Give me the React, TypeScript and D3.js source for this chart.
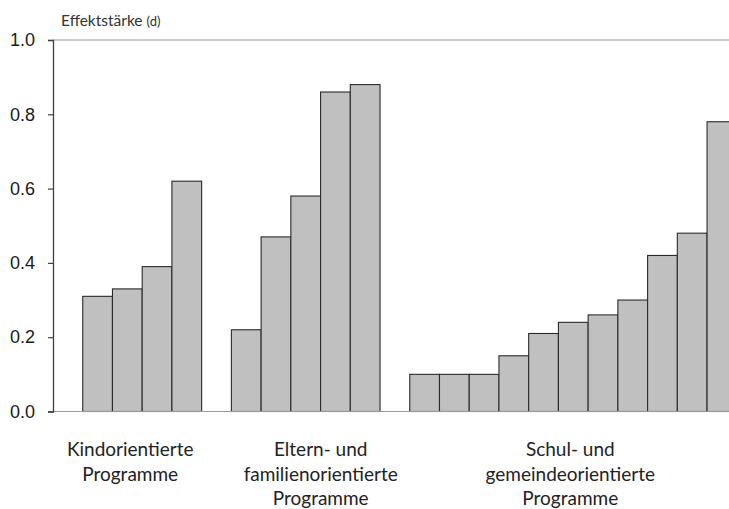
import * as d3 from "d3";
import { useEffect, useRef } from "react";

// groups of programmes (each bar is one study's effect size d)
const groupLabels = [
  ["Kindorientierte", "Programme"],
  ["Eltern- und", "familienorientierte", "Programme"],
  ["Schul- und", "gemeindeorientierte", "Programme"],
];
const kindValues = [0.31, 0.33, 0.39, 0.62];
const elternValues = [0.22, 0.47, 0.58, 0.86, 0.88];
const schulValues = [0.1, 0.1, 0.1, 0.15, 0.21, 0.24, 0.26, 0.3, 0.42, 0.48, 0.78];
const yTicks = [0, 0.2, 0.4, 0.6, 0.8, 1.0];
const yTitle = "Effektstärke";
const yTitleUnit = "(d)";

const width = 729;
const height = 509;

function App() {
  const svgRef = useRef<SVGSVGElement>(null);

  useEffect(() => {
    const svg = d3.select(svgRef.current);
    svg.selectAll("*").remove();

    const groups = [kindValues, elternValues, schulValues];

    // one empty slot before each group
    const slots: { key: string; v: number | null; g: number }[] = [];
    groups.forEach((vals, g) => {
      slots.push({ key: `gap${g}`, v: null, g });
      vals.forEach((v, i) => slots.push({ key: `g${g}b${i}`, v, g }));
    });

    const marginLeft = 53;
    const slotW = 29.73;
    const x = d3
      .scaleBand()
      .domain(slots.map((s) => s.key))
      .range([marginLeft, marginLeft + slotW * slots.length])
      .padding(0);
    const y = d3.scaleLinear([0, 1], [411.5, 40]);

    // top frame line and baseline
    svg.append("line")
      .attr("x1", marginLeft).attr("x2", width)
      .attr("y1", y(1)).attr("y2", y(1))
      .attr("stroke", "#9a9a9a").attr("stroke-width", 1);

    const bars = slots.filter((s) => s.v !== null);
    svg.append("g")
      .selectAll("rect")
      .data(bars)
      .enter()
      .append("rect")
      .attr("x", (d) => x(d.key)!)
      .attr("y", (d) => y(d.v!))
      .attr("width", x.bandwidth())
      .attr("height", (d) => y(0) - y(d.v!))
      .attr("fill", "#c0c0c0")
      .attr("stroke", "#2a2a2a")
      .attr("stroke-width", 1.1);

    svg.append("line")
      .attr("x1", marginLeft).attr("x2", width)
      .attr("y1", y(0)).attr("y2", y(0))
      .attr("stroke", "#9a9a9a").attr("stroke-width", 1.2);

    // y axis
    const axis = svg.append("g")
      .attr("transform", `translate(${marginLeft},0)`)
      .call(d3.axisLeft(y).tickValues(yTicks).tickFormat(d3.format(".1f")).tickSize(5).tickPadding(13));
    axis.select(".domain").attr("stroke", "#404040").attr("stroke-width", 1.3);
    axis.selectAll(".tick line").attr("stroke", "#404040").attr("stroke-width", 1.2);
    axis.selectAll(".tick text")
      .attr("font-family", "Liberation Sans, Arial, sans-serif")
      .attr("font-size", 18)
      .attr("fill", "#1a1a1a");

    // y title
    const t = svg.append("text")
      .attr("x", 61)
      .attr("y", 25.5)
      .attr("font-family", "Lato, sans-serif")
      .attr("font-size", 15.5)
      .attr("fill", "#333");
    t.append("tspan").text(yTitle);
    t.append("tspan").attr("font-size", 13).attr("dx", 4).text(yTitleUnit);

    // group labels
    const labelShift = [-12, 15, -3];
    groupLabels.forEach((lines, g) => {
      const keys = bars.filter((b) => b.g === g).map((b) => b.key);
      const cx = (x(keys[0])! + x(keys[keys.length - 1])! + x.bandwidth()) / 2 + labelShift[g];
      const txt = svg.append("text")
        .attr("text-anchor", "middle")
        .attr("font-family", "Lato, sans-serif")
        .attr("font-size", 19)
        .attr("fill", "#222");
      lines.forEach((line, i) => {
        txt.append("tspan").attr("x", cx).attr("y", 456 + i * 24.5).text(line);
      });
    });
  }, []);

  return (
    <svg
      ref={svgRef}
      width={width}
      height={height}
      style={{ position: "absolute", left: 0, top: 0, background: "#fff" }}
    />
  );
}

export default App;
